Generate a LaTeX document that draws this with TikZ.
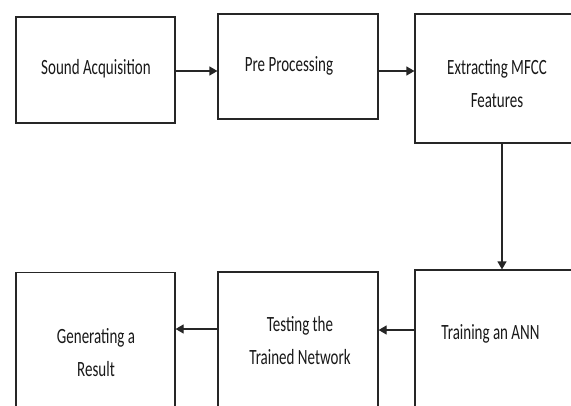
\documentclass[tikz,border=0pt]{standalone}
\usepackage{fontspec}
\setmainfont{Carlito}
\usetikzlibrary{arrows.meta}
% tall, narrow lettering for the step labels
\newcommand\steptext[1]{\scalebox{1}[1.45]{\fontsize{15}{22.8}\selectfont\begin{tabular}{@{}c@{}}#1\end{tabular}}}
\begin{document}
\begin{tikzpicture}[x=1pt,y=-1pt,
  box/.style={draw=black!85,line width=1.2pt,rectangle,inner sep=0pt},
  lbl/.style={text=black!90,inner sep=0pt},
  arr/.style={line width=1.2pt,draw=black!85,-{Triangle[length=8pt,width=9pt]}}]
\useasboundingbox (0,0) rectangle (571,405);
\fill[white] (0,0) rectangle (571,405);
\begin{scope}
\clip (0,0) rectangle (571,405);
% top row
\node[box,minimum width=159pt,minimum height=106pt] (b1) at (95.5,70) {};
\node[box,minimum width=160pt,minimum height=105pt] (b2) at (298,66.5) {};
\node[box,minimum width=180pt,minimum height=129pt] (b3) at (505,78.5) {};
% bottom row
\node[box,minimum width=180pt,minimum height=160pt] (b4) at (505,350) {};
\node[box,minimum width=160pt,minimum height=160pt] (b5) at (298,352) {};
\node[box,minimum width=159pt,minimum height=160pt] (b6) at (95.5,352.7) {};
\end{scope}
% texts
\node[lbl] (t1) at (96,68) {\steptext{Sound Acquisition}};
\node[lbl] (t2) at (289,65) {\steptext{Pre Processing}};
\node[lbl] (t3) at (497,84) {\steptext{Extracting MFCC\\Features}};
\node[lbl] (t4) at (490.5,333) {\steptext{Training an ANN}};
\node[lbl] (t5) at (300,341.5) {\steptext{Testing the\\Trained Network}};
\node[lbl] (t6) at (96,353) {\steptext{Generating a\\Result}};
% connectors
\coordinate (ya) at (0,71);
\coordinate (xv) at (502,0);
\coordinate (yb) at (0,330);
\coordinate (yc) at (0,329);
\draw[arr] (b1.east |- ya) -- (b2.west |- ya);
\draw[arr] (b2.east |- ya) -- (b3.west |- ya);
\draw[arr] (b3.south -| xv) -- (b4.north -| xv);
\draw[arr] (b4.west |- yb) -- (b5.east |- yb);
\draw[arr] (b5.west |- yc) -- (b6.east |- yc);
\end{tikzpicture}
\end{document}
